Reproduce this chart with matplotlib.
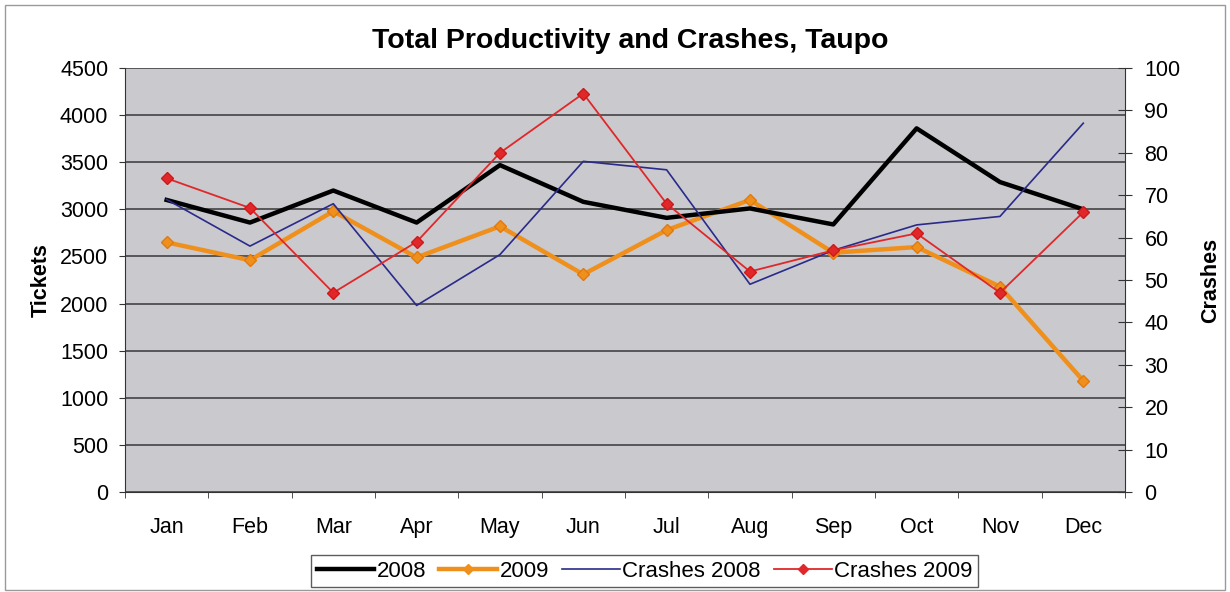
#!/usr/bin/env python3

import matplotlib

matplotlib.use("Agg")
import matplotlib.pyplot as plt
from matplotlib.lines import Line2D
from matplotlib.patches import Rectangle

months = ["Jan", "Feb", "Mar", "Apr", "May", "Jun",
          "Jul", "Aug", "Sep", "Oct", "Nov", "Dec"]

# tickets (left axis)
tickets_2008 = [3100, 2860, 3200, 2860, 3470, 3080, 2910, 3010, 2840, 3860, 3290, 3000]
tickets_2009 = [2650, 2460, 2980, 2490, 2820, 2310, 2780, 3100, 2540, 2600, 2180, 1180]

# crashes (right axis)
crashes_2008 = [69, 58, 68, 44, 56, 78, 76, 49, 57, 63, 65, 87]
crashes_2009 = [74, 67, 47, 59, 80, 94, 68, 52, 57, 61, 47, 66]

left_ticks = list(range(0, 4501, 500))
right_ticks = list(range(0, 101, 10))


def main():
    plt.rcParams.update(
        {
            "font.family": ["Liberation Sans", "DejaVu Sans"],
            "font.size": 15.5,
        }
    )
    fig = plt.figure(figsize=(12.3, 5.92), dpi=100)
    fig.patch.set_facecolor("white")
    fig.patches.append(
        Rectangle((0.004, 0.003), 0.992, 0.988, transform=fig.transFigure,
                  fill=False, edgecolor="#9a9a9a", linewidth=1.0)
    )

    ax = fig.add_axes([0.1016, 0.169, 0.813, 0.716])
    ax.set_facecolor("#c9c9ce")
    x = list(range(len(months)))

    ax.set_ylim(0, 4500)
    ax.set_yticks(left_ticks)
    ax.set_xlim(-0.5, 11.5)
    ax.set_xticks(x)
    ax.set_xticklabels(months)
    ax.set_xticks([i - 0.5 for i in range(len(months) + 1)], minor=True)
    ax.tick_params(axis="x", which="major", length=0, pad=18)
    ax.tick_params(axis="x", which="minor", length=4, direction="out", color="#333333")
    ax.tick_params(axis="y", length=4, direction="out", color="#333333", pad=8)
    ax.grid(True, axis="y", color="#383838", linewidth=1.1)
    ax.set_axisbelow(True)
    for side in ("top", "right"):
        ax.spines[side].set_visible(False)
    ax.spines["left"].set_color("#333333")
    ax.spines["bottom"].set_color("#333333")
    ax.set_ylabel("Tickets", fontweight="bold", fontsize=15.5)
    ax.yaxis.set_label_coords(-0.073, 0.5)

    ax2 = ax.twinx()
    ax2.set_ylim(0, 100)
    ax2.set_yticks(right_ticks)
    ax2.tick_params(axis="y", length=10, direction="inout", color="#333333", pad=9)
    for side in ("top", "left", "bottom"):
        ax2.spines[side].set_visible(False)
    ax2.spines["right"].set_color("#333333")
    ax2.set_ylabel("Crashes", fontweight="bold", fontsize=15.5)
    ax2.yaxis.set_label_coords(1.075, 0.5)

    ax.plot(x, tickets_2008, color="black", linewidth=3.2, zorder=4)
    ax.plot(x, tickets_2009, color="#f0901c", linewidth=3.2, marker="D",
            markersize=6, markerfacecolor="#f0901c", markeredgecolor="#e07a10", zorder=3)
    ax2.plot(x, crashes_2008, color="#2a2a8a", linewidth=1.2, zorder=3)
    ax2.plot(x, crashes_2009, color="#e0282a", linewidth=1.3, marker="D",
             markersize=6, markerfacecolor="#e0282a", markeredgecolor="#d01818", zorder=3)

    fig.text(0.512, 0.93, "Total Productivity and Crashes, Taupo",
             fontweight="bold", fontsize=20.5, ha="center", va="center")

    handles = [
        Line2D([], [], color="black", linewidth=3.2),
        Line2D([], [], color="#f0901c", linewidth=3.2, marker="D", markersize=5),
        Line2D([], [], color="#2a2a8a", linewidth=1.2),
        Line2D([], [], color="#e0282a", linewidth=1.3, marker="D", markersize=5),
    ]
    labels = ["2008", "2009", "Crashes 2008", "Crashes 2009"]
    leg = fig.legend(
        handles, labels, loc="center", bbox_to_anchor=(0.524, 0.035), ncol=4,
        frameon=True, fancybox=False, edgecolor="#333333", handlelength=2.6,
        handletextpad=0.1, columnspacing=0.6, borderpad=0.25, fontsize=16,
    )
    leg.get_frame().set_linewidth(1.0)

    fig.savefig("out.png", dpi=100)
    return 0


if __name__ == "__main__":
    raise SystemExit(main())
